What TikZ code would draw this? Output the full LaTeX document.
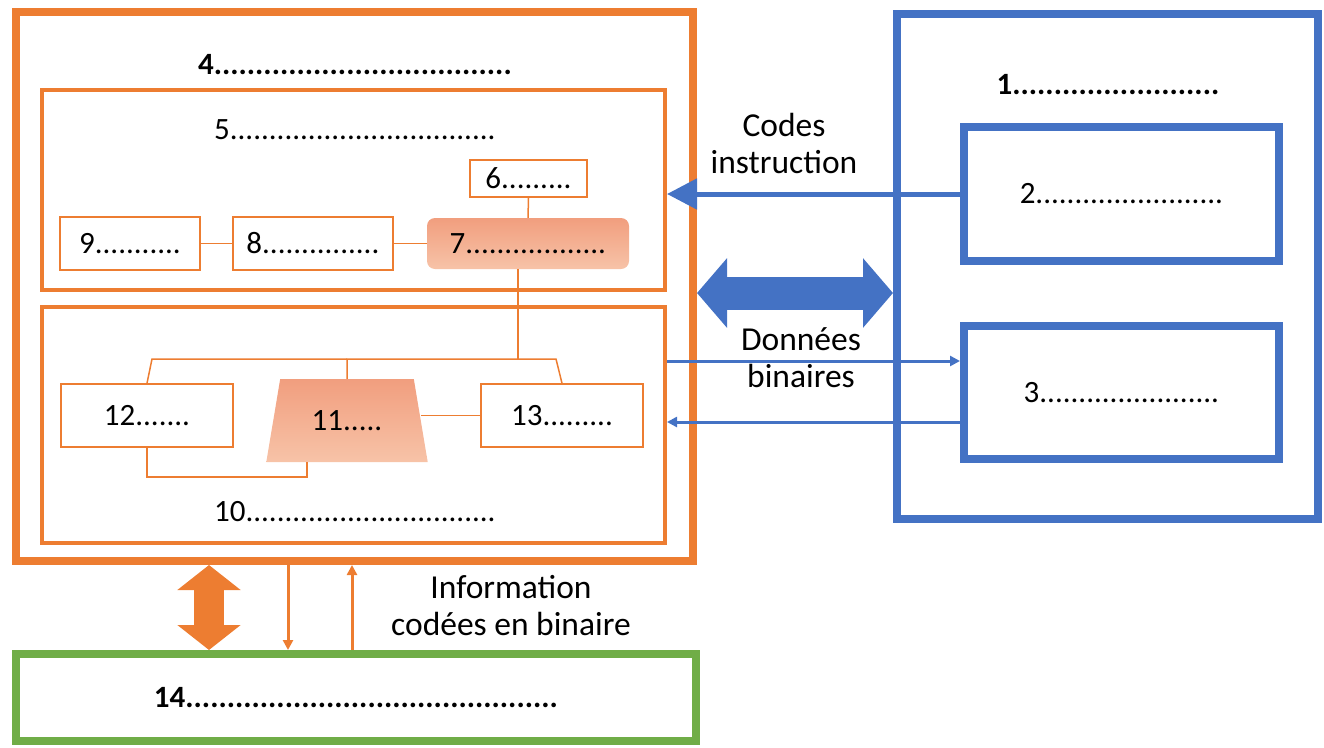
\documentclass[tikz,border=0pt]{standalone}
\usepackage{fontspec}
\setmainfont{Carlito}
\usetikzlibrary{arrows.meta,shapes.geometric}
\definecolor{orng}{HTML}{ED7D31}
\definecolor{blu}{HTML}{4472C4}
\definecolor{grn}{HTML}{70AD47}
\definecolor{salmonA}{HTML}{F19E7E}
\definecolor{salmonB}{HTML}{F7C3A8}

\begin{document}
\begin{tikzpicture}[x=1pt, y=-1pt, font=\fontsize{31}{36}\selectfont,
	outerbox/.style={draw=#1, line width=8pt, inner sep=0pt},
	unitbox/.style={draw=orng, line width=4pt, inner sep=0pt},
	partbox/.style={draw=orng, line width=1.5pt, inner sep=0pt, fill=white},
	hotfill/.style={top color=salmonA, bottom color=salmonB, draw=none, inner sep=0pt},
	wire/.style={orng, line width=1.5pt},
	buslbl/.style={align=center, font=\fontsize{33.5}{37}\selectfont},
	boldlbl/.style={font=\fontsize{31}{36}\selectfont\bfseries}]
		\useasboundingbox (0,0) rectangle (1324,747);
		
		% processeur
		\node[outerbox=orng, minimum width=677pt, minimum height=549pt] (cpu) at (354.5,286.5) {};
		\node[boldlbl] (lbl4) at (355,65) {4....................................};
		\node[unitbox, minimum width=623pt, minimum height=200pt] (u5) at (353.5,190) {};
		\node (lbl5) at (355,130) {5..................................};
		\node[unitbox, minimum width=623pt, minimum height=236pt] (u10) at (353.5,425) {};
		\node (lbl10) at (355,512) {10................................};
		
		\node[partbox, minimum width=117pt, minimum height=37pt] (u6) at (528.5,178.5) {6.........};
		\node[hotfill, rounded corners=8pt, minimum width=202pt, minimum height=51pt] (u7) at (528,243.5) {7..................};
		\node[partbox, minimum width=160pt, minimum height=53pt] (u8) at (313,243.5) {8...............};
		\node[partbox, minimum width=140pt, minimum height=53pt] (u9) at (130,243.5) {9...........};
		\draw[wire] (u9.east) -- (u8.west);
		\draw[wire] (u8.east) -- (u8.east -| u7.west);
		\draw[wire] (u6.south) -- (u7.north);
		
		\node[partbox, minimum width=172pt, minimum height=63pt] (u12) at (147,415.5) {12.......};
		\node[partbox, minimum width=162pt, minimum height=63pt] (u13) at (562,415.5) {13.........};
		\node[hotfill, trapezium, trapezium left angle=70, trapezium right angle=70, trapezium stretches=true,
			minimum width=162pt, minimum height=83pt] (u11) at (347,420.5) {11.....};
		\coordinate (jct) at (518,359);
		\draw[wire] (u7.south -| jct) -- (jct);
		\draw[wire] (u11.north) -- (u11.north |- jct) -- (556,359) -- (u13.north);
		\draw[wire] (u11.north |- jct) -- (152,359) -- (u12.north);
		\draw[wire] (u12.south) -- (u12.south |- 0,477) -- (307,477) -- (307,0 |- u11.south);
		\draw[wire] (u13.west) -- (u13.west -| u11.east);
		
		% memoire
		\node[outerbox=blu, minimum width=421pt, minimum height=505pt] (mem) at (1107.5,266.5) {};
		\node[boldlbl] (lbl1) at (1108,85) {1.........................};
		\node[outerbox=blu, minimum width=315pt, minimum height=134pt] (mem2) at (1121.5,194) {2........................};
		\node[outerbox=blu, minimum width=315pt, minimum height=133pt] (mem3) at (1121.5,392.5) {3.......................};
		
		% peripherique
		\node[outerbox=grn, boldlbl, minimum width=680pt, minimum height=87pt] (ram) at (356,697.5) {14.............................................};
		
		% bus
		\draw[line width=5pt, blu, -{Triangle[length=30pt,width=30pt]}] (mem2.west) -- (mem2.west -| u5.east);
		\draw[line width=33pt, blu, {Triangle[length=30pt,width=68pt]}-{Triangle[length=30pt,width=68pt]}] (cpu.east |- 0,293) -- (mem.west |- 0,293);
		\draw[line width=3pt, blu, -{Triangle[length=10pt,width=10pt]}] (u10.east |- 0,361) -- (mem3.west |- 0,361);
		\draw[line width=3pt, blu, -{Triangle[length=10pt,width=10pt]}] (mem3.west |- 0,422) -- (u10.east |- 0,422);
		\node[buslbl] (codes) at (784,143) {Codes\\instruction};
		\node[buslbl] (donnees) at (801,358) {Données\\binaires};
		
		\draw[line width=30pt, orng, {Triangle[length=25pt,width=62pt]}-{Triangle[length=25pt,width=62pt]}] (209,0 |- cpu.south) -- (209,0 |- ram.north);
		\draw[line width=3pt, orng, -{Triangle[length=10pt,width=10pt]}] (288,0 |- cpu.south) -- (288,0 |- ram.north);
		\draw[line width=3pt, orng, -{Triangle[length=10pt,width=10pt]}] (352,0 |- ram.north) -- (352,0 |- cpu.south);
		\node[buslbl] (info) at (511,606) {Information\\codées en binaire};
		
\end{tikzpicture}
\end{document}
